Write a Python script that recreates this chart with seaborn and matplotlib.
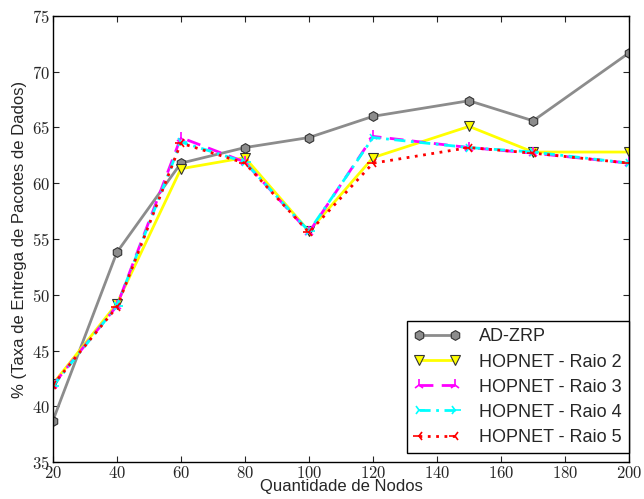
import pandas as pd
import matplotlib.pyplot as plt
import matplotlib.ticker as mticker
import seaborn as sns

# dados
nodos = [20, 40, 60, 80, 100, 120, 150, 170, 200]
ad_zrp = [38.7, 53.8, 61.8, 63.2, 64.1, 66.0, 67.4, 65.6, 71.7]
raio2 = [42.0, 49.2, 61.3, 62.3, 55.7, 62.3, 65.1, 62.8, 62.8]
raio3 = [41.9, 49.0, 64.1, 61.9, 55.6, 64.2, 63.2, 62.7, 61.8]
raio4 = [41.8, 49.0, 63.7, 61.9, 55.7, 64.1, 63.2, 62.8, 61.8]
raio5 = [41.9, 48.9, 63.6, 61.8, 55.6, 61.8, 63.2, 62.7, 61.8]

nomes = ["AD-ZRP", "HOPNET - Raio 2", "HOPNET - Raio 3", "HOPNET - Raio 4", "HOPNET - Raio 5"]
series = [ad_zrp, raio2, raio3, raio4, raio5]

df = pd.DataFrame({
    "nodos": nodos * len(nomes),
    "taxa": sum(series, []),
    "protocolo": [n for n in nomes for _ in nodos],
})

sns.set_style("ticks")
plt.rcParams["font.family"] = ["Liberation Sans", "DejaVu Sans"]
plt.rcParams["mathtext.fontset"] = "cm"

estilos = {
    "AD-ZRP": dict(color="#8c8c8c", marker="h", ls="-", ms=7, mfc="#8c8c8c", mec="#333333", mew=0.8),
    "HOPNET - Raio 2": dict(color="#ffff00", marker="v", ls="-", ms=7, mfc="#ffff00", mec="#333333", mew=0.8),
    "HOPNET - Raio 3": dict(color="#ff00ff", marker="2", ls=(0, (5, 3)), ms=8, mew=1.2),
    "HOPNET - Raio 4": dict(color="#00ffff", marker="4", ls=(0, (4, 2, 1, 2)), ms=8, mew=1.2),
    "HOPNET - Raio 5": dict(color="#ff0000", marker="3", ls=(0, (1, 2)), ms=8, mew=1.2),
}

fig = plt.figure(figsize=(6.44, 4.99), dpi=100)
ax = fig.add_axes([0.082, 0.074, 0.895, 0.894])

for nome in nomes:
    st = estilos[nome]
    sns.lineplot(data=df[df["protocolo"] == nome], x="nodos", y="taxa", ax=ax,
                 label=nome, color=st["color"], marker=st["marker"], linestyle=st["ls"],
                 markersize=st["ms"], markerfacecolor=st.get("mfc", st["color"]),
                 markeredgecolor=st.get("mec", st["color"]), markeredgewidth=st["mew"],
                 linewidth=2, errorbar=None)

ax.set_xlim(20, 200)
ax.set_ylim(35, 75)
ax.xaxis.set_major_locator(mticker.MultipleLocator(20))
ax.yaxis.set_major_locator(mticker.MultipleLocator(5))
fmt = mticker.FuncFormatter(lambda v, p: r"$%d$" % v)
ax.xaxis.set_major_formatter(fmt)
ax.yaxis.set_major_formatter(fmt)
ax.tick_params(direction="in", top=True, right=True, length=4, labelsize=12, pad=2)
for s in ax.spines.values():
    s.set_visible(True)
    s.set_color("black")
    s.set_linewidth(1.0)

ax.set_xlabel("Quantidade de Nodos", fontsize=12, labelpad=-1)
ax.set_ylabel("% (Taxa de Entrega de Pacotes de Dados)", fontsize=12, labelpad=4)

leg = ax.legend(loc="lower right", bbox_to_anchor=(0.999, 0.02), borderaxespad=0,
                fontsize=13, frameon=True, fancybox=False, numpoints=2,
                handlelength=2.6, handletextpad=1.0, labelspacing=0.45,
                edgecolor="black", framealpha=1)
leg.get_frame().set_linewidth(1.0)

fig.savefig("out.png", dpi=100)
